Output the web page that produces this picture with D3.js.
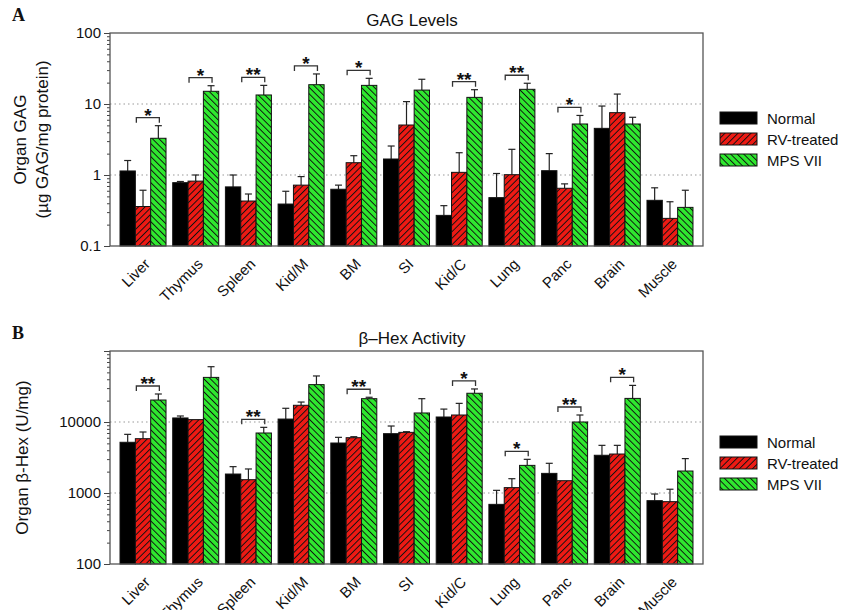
<!DOCTYPE html>
<html>
<head>
<meta charset="utf-8">
<script src="https://cdn.jsdelivr.net/npm/d3@7"></script>
<style>
  body { margin: 0; background: #fff; }
  text { font-family: Arial, 'Liberation Sans', sans-serif; fill: #111; }
</style>
</head>
<body>
<svg id="chart" width="847" height="610"></svg>
<script>
const organs = ['Liver', 'Thymus', 'Spleen', 'Kid/M', 'BM', 'SI', 'Kid/C', 'Lung', 'Panc', 'Brain', 'Muscle']
const groups = ['Normal', 'RV-treated', 'MPS VII']

// panel A: GAG levels (ug GAG / mg protein)
const gagNormal = [1.14, 0.78, 0.68, 0.39, 0.63, 1.68, 0.27, 0.48, 1.15, 4.54, 0.44]
const gagNormalErr = [1.6, 0.81, 1.0, 0.59, 0.72, 2.56, 0.37, 1.05, 2.0, 9.36, 0.66]
const gagRV = [0.36, 0.82, 0.43, 0.72, 1.49, 5.06, 1.09, 1.01, 0.65, 7.55, 0.245]
const gagRVErr = [0.61, 1.0, 0.54, 0.95, 1.87, 10.8, 2.06, 2.3, 0.75, 13.8, 0.42]
const gagMPS = [3.29, 15.1, 13.4, 18.7, 18.3, 15.7, 12.4, 16.1, 5.23, 5.23, 0.35]
const gagMPSErr = [4.95, 18.1, 18.3, 26.5, 23.0, 22.3, 15.9, 19.6, 6.9, 6.5, 0.61]
const gagSig = ['*', '*', '**', '*', '*', '', '**', '**', '*', '', '']
const gagTicks = [0.1, 1, 10, 100]

// panel B: beta-Hex activity (U/mg)
const hexNormal = [5180, 11400, 1850, 11000, 5060, 6850, 11760, 692, 1890, 3400, 780]
const hexNormalErr = [6700, 12150, 2350, 15600, 6080, 8780, 15200, 1090, 2620, 4690, 968]
const hexRV = [5820, 10800, 1540, 17200, 6010, 7150, 12550, 1190, 1490, 3540, 755]
const hexRVErr = [7230, 10800, 2180, 19100, 6210, 7300, 18300, 1590, 1490, 4690, 1130]
const hexMPS = [20400, 42500, 7000, 33600, 21300, 13400, 25400, 2450, 10000, 21500, 2040]
const hexMPSErr = [24800, 60100, 8410, 44500, 22300, 21300, 29200, 2980, 12550, 32800, 3050]
const hexSig = ['**', '', '**', '', '**', '', '*', '*', '**', '*', '']
const hexTicks = [100, 1000, 10000]

const colors = ['#000000', '#ee1a14', '#2fe82f']

const svg = d3.select('#chart')
const defs = svg.append('defs')

// hatch patterns for the two treated series
function makeHatch (id, fill, dir) {
  const p = defs.append('pattern')
    .attr('id', id)
    .attr('patternUnits', 'userSpaceOnUse')
    .attr('width', 4.6)
    .attr('height', 4.6)
    .attr('patternTransform', 'rotate(' + dir + ')')
  p.append('rect').attr('width', 4.6).attr('height', 4.6).attr('fill', fill)
  p.append('line')
    .attr('x1', 0).attr('y1', 0).attr('x2', 0).attr('y2', 4.6)
    .attr('stroke', '#111').attr('stroke-width', 1.9)
}
makeHatch('hatchRed', colors[1], 45)
makeHatch('hatchGreen', colors[2], -45)
const fills = [colors[0], 'url(#hatchRed)', 'url(#hatchGreen)']

const left = 110
const right = 703

function drawPanel (cfg) {
  const g = svg.append('g')
  const x0 = d3.scaleBand().domain(organs).range([left, right]).paddingInner(0.127).paddingOuter(0.19)
  const x1 = d3.scaleBand().domain(groups).range([0, x0.bandwidth()])
  const y = d3.scaleLog().domain(cfg.domain).range([cfg.bottom, cfg.top])

  // dotted grid
  g.selectAll('.grid')
    .data(cfg.ticks.filter(t => t > cfg.domain[0] && t < cfg.domain[1]))
    .enter().append('line')
    .attr('x1', left).attr('x2', right)
    .attr('y1', d => y(d)).attr('y2', d => y(d))
    .attr('stroke', '#999').attr('stroke-width', 1.2).attr('stroke-dasharray', '1.5,3')

  const series = cfg.values.map((vals, si) => organs.map((o, i) => ({
    organ: o, s: si, v: vals[i], e: cfg.errs[si][i]
  })))

  series.forEach((rows, si) => {
    const sg = g.append('g')
    // error bars (upper only)
    rows.forEach(d => {
      if (d.e <= d.v) return
      const cx = x0(d.organ) + x1(groups[si]) + x1.bandwidth() / 2
      sg.append('line').attr('x1', cx).attr('x2', cx).attr('y1', y(d.v)).attr('y2', y(d.e))
        .attr('stroke', '#222').attr('stroke-width', 1.2)
      sg.append('line').attr('x1', cx - 3.5).attr('x2', cx + 3.5).attr('y1', y(d.e)).attr('y2', y(d.e))
        .attr('stroke', '#222').attr('stroke-width', 1.2)
    })
    sg.selectAll('rect')
      .data(rows)
      .enter().append('rect')
      .attr('x', d => x0(d.organ) + x1(groups[si]))
      .attr('width', x1.bandwidth())
      .attr('y', d => y(d.v))
      .attr('height', d => cfg.bottom - y(d.v))
      .attr('fill', fills[si])
      .attr('stroke', '#111').attr('stroke-width', 1)
  })

  // significance brackets between RV-treated and MPS VII
  organs.forEach((o, i) => {
    const sig = cfg.sig[i]
    if (!sig) return
    const xa = x0(o) + x1(groups[1]) + 1
    const xb = x0(o) + x1(groups[2]) + x1.bandwidth() / 2 + 1
    const yb = y(cfg.errs[2][i]) - 8
    g.append('path')
      .attr('d', `M${xa},${yb + 5}V${yb}H${xb}V${yb + 5}`)
      .attr('fill', 'none').attr('stroke', '#333').attr('stroke-width', 1.3)
    g.append('text')
      .attr('x', (xa + xb) / 2).attr('y', yb + 4)
      .attr('text-anchor', 'middle')
      .style('font-size', '19px').style('font-weight', 'bold')
      .text(sig)
  })

  // y axis with log minor ticks
  const yAxis = d3.axisLeft(y)
    .tickValues(y.ticks())
    .tickSize(3)
    .tickFormat(d => cfg.ticks.includes(d) ? d : '')
  const ax = g.append('g').attr('transform', `translate(${left},0)`).call(yAxis)
  ax.selectAll('.tick line').attr('x2', d => cfg.ticks.includes(d) || d === cfg.domain[1] ? -6 : -3)
  ax.selectAll('.tick text').attr('x', -9).style('font-size', '15px').style('fill', '#111')
  ax.select('.domain').remove()
  ax.selectAll('.tick line').attr('stroke', '#444')

  // frame
  g.append('rect')
    .attr('x', left).attr('y', cfg.top)
    .attr('width', right - left).attr('height', cfg.bottom - cfg.top)
    .attr('fill', 'none').attr('stroke', '#555').attr('stroke-width', 1.3)

  // category labels
  g.selectAll('.xlab')
    .data(organs)
    .enter().append('text')
    .attr('text-anchor', 'end')
    .attr('transform', d => `translate(${x0(d) + x0.bandwidth() / 2 + 8},${cfg.bottom + 19}) rotate(-45)`)
    .style('font-size', '15px')
    .text(d => d)

  // title and panel letter
  g.append('text').attr('x', 412).attr('y', cfg.top - 7).attr('text-anchor', 'middle')
    .style('font-size', '17px').text(cfg.title)
  g.append('text').attr('x', 12).attr('y', cfg.top - 12)
    .style('font-family', "'Liberation Serif', 'DejaVu Serif', serif")
    .style('font-size', '18px').style('font-weight', 'bold').text(cfg.letter)

  // y label
  const mid = (cfg.top + cfg.bottom) / 2
  cfg.ylabel.forEach((line, li) => {
    g.append('text')
      .attr('transform', `translate(${cfg.ylabelX + li * 22},${mid}) rotate(-90)`)
      .attr('text-anchor', 'middle')
      .style('font-size', '17px')
      .text(line)
  })

  // legend
  const lg = g.append('g').attr('transform', `translate(720,${cfg.legendY})`)
  groups.forEach((name, i) => {
    lg.append('rect').attr('x', 0).attr('y', i * 21 - 6).attr('width', 37).attr('height', 12)
      .attr('fill', fills[i]).attr('stroke', '#111').attr('stroke-width', 1)
    lg.append('text').attr('x', 47).attr('y', i * 21 + 5.5)
      .style('font-size', '15px').text(name)
  })
}

drawPanel({
  letter: 'A',
  title: 'GAG Levels',
  top: 33,
  bottom: 246,
  domain: [0.1, 100],
  ticks: gagTicks,
  values: [gagNormal, gagRV, gagMPS],
  errs: [gagNormalErr, gagRVErr, gagMPSErr],
  sig: gagSig,
  ylabel: ['Organ GAG', '(\u00b5g GAG/mg protein)'],
  ylabelX: 26,
  legendY: 118
})

drawPanel({
  letter: 'B',
  title: '\u03b2\u2013Hex Activity',
  top: 351,
  bottom: 564,
  domain: [100, 100000],
  ticks: hexTicks,
  values: [hexNormal, hexRV, hexMPS],
  errs: [hexNormalErr, hexRVErr, hexMPSErr],
  sig: hexSig,
  ylabel: ['Organ \u03b2-Hex (U/mg)'],
  ylabelX: 28,
  legendY: 442
})
</script>
</body>
</html>
